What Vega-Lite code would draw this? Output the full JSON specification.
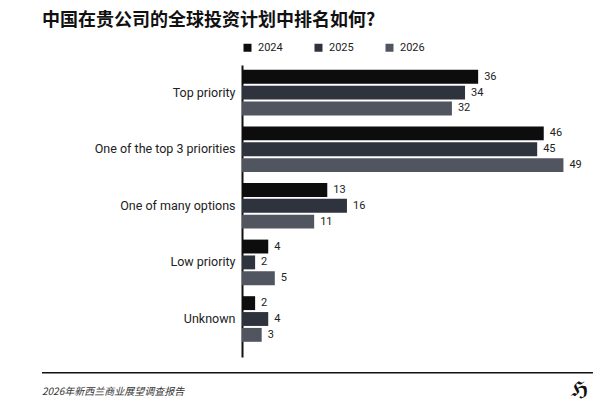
{
  "$schema": "https://vega.github.io/schema/vega-lite/v6.json",
  "background": "white",
  "padding": {"left": 41, "top": 12, "right": 20, "bottom": 5},
  "title": {
    "text": "中国在贵公司的全球投资计划中排名如何?",
    "anchor": "start",
    "font": "Noto Sans CJK SC",
    "fontSize": 18,
    "fontWeight": "bold",
    "color": "#111111",
    "offset": 12
  },
  "config": {"view": {"stroke": null}},
  "spacing": 15,
  "vconcat": [
    {
      "width": 352,
      "height": 292,
      "data": {
        "values": [
          {"category": "Top priority", "year": "2024", "value": 36},
          {"category": "Top priority", "year": "2025", "value": 34},
          {"category": "Top priority", "year": "2026", "value": 32},
          {"category": "One of the top 3 priorities", "year": "2024", "value": 46},
          {"category": "One of the top 3 priorities", "year": "2025", "value": 45},
          {"category": "One of the top 3 priorities", "year": "2026", "value": 49},
          {"category": "One of many options", "year": "2024", "value": 13},
          {"category": "One of many options", "year": "2025", "value": 16},
          {"category": "One of many options", "year": "2026", "value": 11},
          {"category": "Low priority", "year": "2024", "value": 4},
          {"category": "Low priority", "year": "2025", "value": 2},
          {"category": "Low priority", "year": "2026", "value": 5},
          {"category": "Unknown", "year": "2024", "value": 2},
          {"category": "Unknown", "year": "2025", "value": 4},
          {"category": "Unknown", "year": "2026", "value": 3}
        ]
      },
      "encoding": {
        "y": {
          "field": "category",
          "type": "nominal",
          "sort": ["Top priority", "One of the top 3 priorities", "One of many options", "Low priority", "Unknown"],
          "scale": {"paddingInner": 0.194, "paddingOuter": 0.1765, "align": 0.24},
          "axis": {
            "title": null,
            "domainColor": "#111111",
            "domainWidth": 2,
            "ticks": false,
            "labelPadding": 7,
            "labelFont": "Roboto",
            "labelFontSize": 12.5,
            "labelColor": "#222222",
            "labelLimit": 200,
            "minExtent": 200
          }
        },
        "x": {
          "field": "value",
          "type": "quantitative",
          "scale": {"domain": [0, 53.66], "nice": false},
          "axis": null
        },
        "yOffset": {
          "field": "year",
          "type": "nominal",
          "sort": ["2024", "2025", "2026"],
          "scale": {"paddingInner": 0.125}
        }
      },
      "layer": [
        {
          "mark": {"type": "bar"},
          "encoding": {
            "color": {
              "field": "year",
              "type": "nominal",
              "scale": {"domain": ["2024", "2025", "2026"], "range": ["#0d0d0d", "#2e333e", "#50555f"]},
              "legend": {
                "title": null,
                "orient": "none",
                "legendX": 0,
                "legendY": -23,
                "direction": "horizontal",
                "symbolType": "square",
                "symbolSize": 64,
                "symbolStrokeWidth": 0,
                "labelOffset": 5,
                "columnPadding": 30,
                "labelFont": "Roboto",
                "labelFontSize": 11,
                "labelColor": "#222222",
                "padding": 0
              }
            }
          }
        },
        {
          "mark": {"type": "text", "align": "left", "baseline": "middle", "dx": 6, "font": "Roboto", "fontSize": 11, "color": "#222222"},
          "encoding": {"text": {"field": "value", "type": "quantitative"}}
        }
      ]
    },
    {
      "width": 352,
      "height": 36,
      "data": {"values": [{"lineStart": -0.5682, "lineEnd": 0.997, "lineTop": 1, "lineBottom": 0.96, "label": "2026年新西兰商业展望调查报告", "logo": "ℌ", "labelX": -0.5682, "labelY": 0.436, "logoX": 0.96, "logoY": 0.49}]},
      "encoding": {
        "x": {"type": "quantitative", "scale": {"domain": [0, 1], "nice": false, "zero": false}, "axis": null},
        "y": {"type": "quantitative", "scale": {"domain": [0, 1], "nice": false, "zero": false}, "axis": null}
      },
      "layer": [
        {
          "mark": {"type": "bar", "color": "#111111"},
          "encoding": {
            "x": {"field": "lineStart", "type": "quantitative"},
            "x2": {"field": "lineEnd"},
            "y": {"field": "lineTop", "type": "quantitative"},
            "y2": {"field": "lineBottom"}
          }
        },
        {
          "mark": {"type": "text", "align": "left", "baseline": "middle", "font": "Noto Sans CJK SC", "fontSize": 10, "fontStyle": "italic", "color": "#333333"},
          "encoding": {
            "x": {"field": "labelX", "type": "quantitative"},
            "y": {"field": "labelY", "type": "quantitative"},
            "text": {"field": "label"}
          }
        },
        {
          "mark": {"type": "text", "align": "center", "baseline": "middle", "font": "DejaVu Sans", "fontSize": 20, "fontWeight": "bold", "color": "#111111"},
          "encoding": {
            "x": {"field": "logoX", "type": "quantitative"},
            "y": {"field": "logoY", "type": "quantitative"},
            "text": {"field": "logo"}
          }
        }
      ]
    }
  ]
}
